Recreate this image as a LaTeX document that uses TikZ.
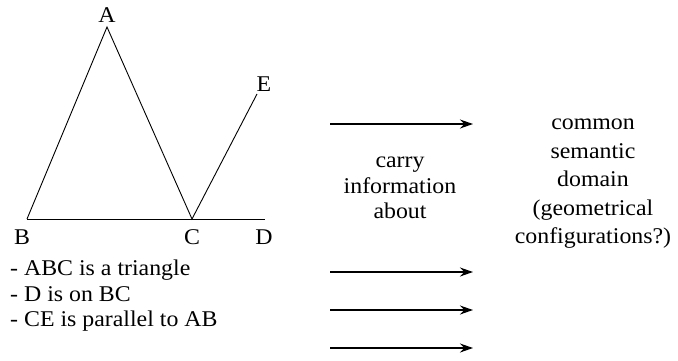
\documentclass[tikz,border=0pt]{standalone}
\usepackage{fontspec}
\setmainfont{Liberation Serif}[FakeStretch=1.06]
\usetikzlibrary{arrows.meta}
\begin{document}
\begin{tikzpicture}[x=1pt,y=-1pt,
  lbl/.style={font=\fontsize{22.5}{25}\selectfont, inner sep=0pt},
  txt/.style={font=\fontsize{22.5}{25.5}\selectfont, align=center, inner sep=0pt},
  fig/.style={line width=0.9pt},
  arr/.style={line width=1.3pt, -{Stealth[length=13pt,width=9pt]}}]
\useasboundingbox (0,0) rectangle (678,360);
\coordinate (A) at (107,27);
\coordinate (B) at (27,219);
\coordinate (C) at (192,219);
\coordinate (D) at (265,219);
\coordinate (E) at (257,94);
\draw[fig] (B) -- (A) -- (C) -- (E);
\draw[fig] (B) -- (D);
\node[lbl] (lA) at (107,15) {A};
\node[lbl] (lB) at (22,237) {B};
\node[lbl] (lC) at (192,237) {C};
\node[lbl] (lD) at (264,237) {D};
\node[lbl] (lE) at (264,84) {E};
\node[txt, align=left, anchor=west] (facts) at (10,296) {- ABC is a triangle\\- D is on BC\\- CE is parallel to AB};
\node[txt] (carry) at (400,188) {carry\\information\\about};
\node[txt, font=\fontsize{22.5}{28.5}\selectfont] (dom) at (593,184) {common\\semantic\\domain\\(geometrical\\configurations?)};
\foreach \i/\y in {1/124,2/272,3/310,4/348}{
  \coordinate (s\i) at (330,\y);
  \coordinate (t\i) at (473,\y);
  \draw[arr] (s\i) -- (t\i);
}
\end{tikzpicture}
\end{document}
